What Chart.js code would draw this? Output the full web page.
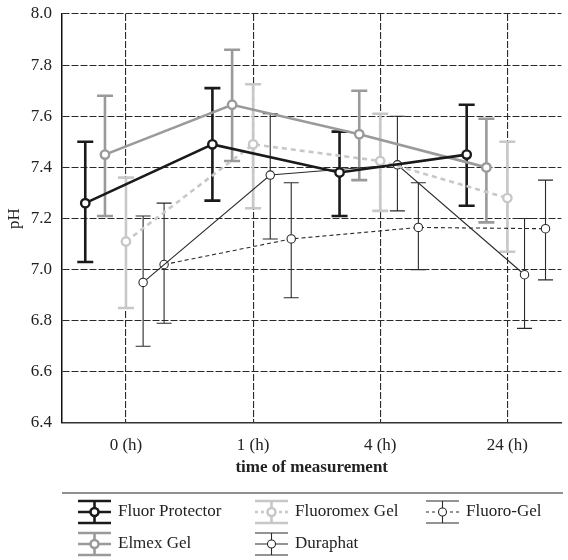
<!DOCTYPE html>
<html>
<head>
<meta charset="utf-8">
<script src="https://cdn.jsdelivr.net/npm/chart.js@4.4.0/dist/chart.umd.min.js"></script>
<style>
    html, body { margin: 0; padding: 0; background: #fff; overflow: hidden; }
    #wrap { width: 568px; height: 560px; position: relative; }
</style>
</head>
<body>
<div id="wrap"><canvas id="phChart"></canvas></div>
<script>
// x categories
const timeLabels = ['0 (h)', '1 (h)', '4 (h)', '24 (h)'];

// mean pH and error bar ends
const fluorProtector = [7.26, 7.49, 7.38, 7.45];
const fluorProtectorHi = [7.50, 7.71, 7.54, 7.645];
const fluorProtectorLo = [7.03, 7.27, 7.21, 7.25];

const elmexGel = [7.45, 7.645, 7.53, 7.40];
const elmexGelHi = [7.68, 7.86, 7.70, 7.59];
const elmexGelLo = [7.21, 7.425, 7.35, 7.185];

const fluoromexGel = [7.11, 7.49, 7.425, 7.28];
const fluoromexGelHi = [7.36, 7.725, 7.61, 7.50];
const fluoromexGelLo = [6.85, 7.24, 7.23, 7.07];

const duraphat = [6.95, 7.37, 7.41, 6.98];
const duraphatHi = [7.21, 7.61, 7.60, 7.20];
const duraphatLo = [6.70, 7.12, 7.23, 6.77];

const fluoroGel = [7.02, 7.12, 7.165, 7.16];
const fluoroGelHi = [7.26, 7.34, 7.34, 7.35];
const fluoroGelLo = [6.79, 6.89, 7.00, 6.96];

const FONT = "'Liberation Serif', 'DejaVu Serif', serif";
const TEXT = '#222';

// style per series (offset = shift from the category gridline, in x units)
const series = [
    { label: 'Fluor Protector', data: fluorProtector, hi: fluorProtectorHi, lo: fluorProtectorLo,
      color: '#1a1a1a', width: 2.6, dash: [], offset: -0.32, cap: 16, legendCol: 0, legendRow: 0 },
    { label: 'Elmex Gel', data: elmexGel, hi: elmexGelHi, lo: elmexGelLo,
      color: '#9a9a9a', width: 2.6, dash: [], offset: -0.165, cap: 16, legendCol: 0, legendRow: 1 },
    { label: 'Fluoromex Gel', data: fluoromexGel, hi: fluoromexGelHi, lo: fluoromexGelLo,
      color: '#c8c8c8', width: 2.6, dash: [5, 4], offset: 0, cap: 16, legendCol: 1, legendRow: 0 },
    { label: 'Duraphat', data: duraphat, hi: duraphatHi, lo: duraphatLo,
      color: '#2a2a2a', width: 1.1, dash: [], offset: 0.135, cap: 15, legendCol: 1, legendRow: 1 },
    { label: 'Fluoro-Gel', data: fluoroGel, hi: fluoroGelHi, lo: fluoroGelLo,
      color: '#2a2a2a', width: 1.1, dash: [4, 3], offset: 0.30, cap: 15, legendCol: 2, legendRow: 0 }
];

// error bars drawn under the points
const errorBarPlugin = {
    id: 'errorBars',
    beforeDatasetsDraw(chart) {
        const ctx = chart.ctx;
        const yScale = chart.scales.y;
        series.forEach((s, di) => {
            const meta = chart.getDatasetMeta(di);
            ctx.save();
            ctx.strokeStyle = s.color;
            ctx.lineWidth = s.width;
            ctx.setLineDash([]);
            meta.data.forEach((pt, i) => {
                const x = pt.x;
                const yHi = yScale.getPixelForValue(s.hi[i]);
                const yLo = yScale.getPixelForValue(s.lo[i]);
                ctx.beginPath();
                ctx.moveTo(x, yHi);
                ctx.lineTo(x, yLo);
                ctx.moveTo(x - s.cap / 2, yHi);
                ctx.lineTo(x + s.cap / 2, yHi);
                ctx.moveTo(x - s.cap / 2, yLo);
                ctx.lineTo(x + s.cap / 2, yLo);
                ctx.stroke();
            });
            ctx.restore();
        });
    }
};

// legend below the plot, with a rule on top
const legendPlugin = {
    id: 'bottomLegend',
    afterDraw(chart) {
        const ctx = chart.ctx;
        const colX = [78, 255, 426];
        const rowY = [512, 544];
        const iconW = 33;
        ctx.save();
        ctx.strokeStyle = '#222';
        ctx.lineWidth = 1.2;
        ctx.beginPath();
        ctx.moveTo(62, 493);
        ctx.lineTo(563, 493);
        ctx.stroke();

        series.forEach(s => {
            const x0 = colX[s.legendCol];
            const cy = rowY[s.legendRow];
            const cx = x0 + iconW / 2;
            ctx.strokeStyle = s.color;
            ctx.lineWidth = s.width;
            ctx.setLineDash([]);
            ctx.beginPath();
            ctx.moveTo(x0, cy - 11);
            ctx.lineTo(x0 + iconW, cy - 11);
            ctx.moveTo(x0, cy + 11);
            ctx.lineTo(x0 + iconW, cy + 11);
            ctx.moveTo(cx, cy - 11);
            ctx.lineTo(cx, cy + 11);
            ctx.stroke();
            ctx.setLineDash(s.dash.length ? [3, 3] : []);
            ctx.beginPath();
            ctx.moveTo(x0, cy);
            ctx.lineTo(x0 + iconW, cy);
            ctx.stroke();
            ctx.setLineDash([]);
            ctx.beginPath();
            ctx.arc(cx, cy, 4, 0, Math.PI * 2);
            ctx.fillStyle = '#fff';
            ctx.fill();
            ctx.stroke();

            ctx.fillStyle = TEXT;
            ctx.font = '17px ' + FONT;
            ctx.textBaseline = 'middle';
            ctx.textAlign = 'left';
            ctx.fillText(s.label, x0 + 40, cy);
        });
        ctx.restore();
    }
};

function initializeChart() {
    const ctx = document.getElementById('phChart').getContext('2d');

    const datasets = series.map(s => ({
        label: s.label,
        data: s.data.map((v, i) => ({ x: i + 1 + s.offset, y: v })),
        borderColor: s.color,
        borderWidth: s.width,
        borderDash: s.dash,
        pointRadius: 4.2,
        pointBorderWidth: s.width > 2 ? 2.4 : 1.1,
        pointBackgroundColor: '#fff',
        pointBorderColor: s.color,
        tension: 0,
        fill: false
    }));

    new Chart(ctx, {
        type: 'line',
        data: { datasets },
        options: {
            responsive: true,
            maintainAspectRatio: false,
            animation: false,
            layout: { padding: { left: 0, right: 0, top: 14, bottom: 77 } },
            plugins: {
                legend: { display: false },
                tooltip: { enabled: false }
            },
            scales: {
                x: {
                    type: 'linear',
                    min: 0.497,
                    max: 4.425,
                    afterBuildTicks: scale => {
                        scale.ticks = timeLabels.map((_, i) => ({ value: i + 1 }));
                    },
                    afterFit: scale => {
                        scale.height = 60;
                        scale.paddingLeft = 0;
                        scale.paddingRight = 0;
                    },
                    grid: { color: '#2a2a2a', lineWidth: 1.1, drawTicks: false },
                    border: { display: true, color: '#333', width: 1.5, dash: [7, 2] },
                    ticks: {
                        padding: 12,
                        color: TEXT,
                        font: { family: FONT, size: 17 },
                        maxRotation: 0,
                        callback: (value, index) => timeLabels[index]
                    },
                    title: {
                        display: true,
                        text: 'time of measurement',
                        color: TEXT,
                        font: { family: FONT, size: 17, weight: 'bold' },
                        padding: { top: 0, bottom: 5 }
                    }
                },
                y: {
                    min: 6.4,
                    max: 8.0,
                    afterFit: scale => {
                        scale.width = 62;
                        scale.paddingTop = 0;
                        scale.paddingBottom = 0;
                    },
                    grid: { color: '#2a2a2a', lineWidth: 1.1, drawTicks: false },
                    border: { display: true, color: '#111', width: 1.5, dash: [7, 2] },
                    ticks: {
                        stepSize: 0.2,
                        padding: 10,
                        color: TEXT,
                        font: { family: FONT, size: 17 },
                        callback: value => value.toFixed(1)
                    },
                    title: {
                        display: true,
                        text: 'pH',
                        color: TEXT,
                        font: { family: FONT, size: 17 },
                        padding: { top: 4, bottom: 0 }
                    }
                }
            }
        },
        plugins: [errorBarPlugin, legendPlugin]
    });
}

document.addEventListener('DOMContentLoaded', initializeChart);
</script>
</body>
</html>
